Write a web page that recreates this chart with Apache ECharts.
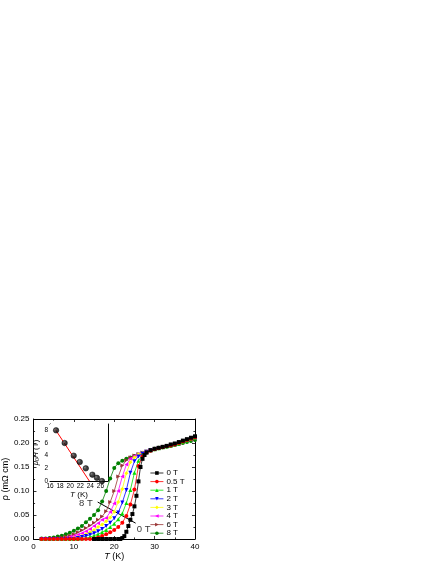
<!DOCTYPE html>
<html>
<head>
<meta charset="utf-8">
<script src="https://cdn.jsdelivr.net/npm/echarts@6/dist/echarts.min.js"></script>
<style>
html,body{margin:0;padding:0;background:#fff;}
#chart{width:436px;height:564px;}
</style>
</head>
<body>
<div id="chart"></div>
<script>
// ---------- DATA ----------
const fieldNames = ['0 T','0.5 T','1 T','2 T','3 T','4 T','6 T','8 T'];
const fieldColors = ['#000000','#ff0000','#00e000','#0000ff','#ffff00','#ff00ff','#993333','#008000'];

// temperature grid (K) for the in-field curves
const T_grid = [2,3,4,5,6,7,8,9,10,11,12,13,14,15,16,17,18,19,20,21,22,23,24,25,26,27,28,29,30,31,32,33,34,35,36,37,38,39,40];
// temperature grid for the zero-field curve
const T_zero = [15,16,17,18,19,20,21,21.5,22,22.5,23,23.5,24,24.5,25,25.5,26,26.5,27,27.5,28,29,30,31,32,33,34,35,36,37,38,39,40];

const rho_0T   = [0,0,0,0,0,0,0,0.000,0.002,0.006,0.015,0.027,0.040,0.052,0.068,0.090,0.120,0.150,0.167,0.175,0.180,0.185,0.188,0.190,0.192,0.194,0.197,0.199,0.202,0.205,0.208,0.211,0.214];
const rho_05T  = [0,0,0,0,0,0,0,0,0,0,0,0,0,0.001,0.003,0.006,0.010,0.014,0.019,0.025,0.034,0.048,0.072,0.103,0.152,0.172,0.180,0.184,0.187,0.189,0.191,0.193,0.195,0.197,0.200,0.203,0.206,0.209,0.212];
const rho_1T   = [0,0,0,0,0,0,0,0,0,0,0.001,0.002,0.004,0.007,0.010,0.014,0.019,0.025,0.032,0.041,0.053,0.075,0.102,0.138,0.163,0.175,0.181,0.185,0.187,0.189,0.191,0.193,0.195,0.197,0.199,0.202,0.205,0.208,0.211];
const rho_2T   = [0,0,0,0,0,0,0,0,0,0.002,0.004,0.006,0.009,0.012,0.016,0.021,0.027,0.034,0.043,0.055,0.076,0.102,0.138,0.162,0.172,0.178,0.182,0.185,0.187,0.189,0.191,0.193,0.195,0.197,0.200,0.203,0.206,0.209,0.212];
const rho_3T   = [0,0,0,0,0,0,0.001,0.001,0.002,0.004,0.006,0.010,0.014,0.019,0.025,0.030,0.037,0.045,0.057,0.077,0.104,0.137,0.160,0.170,0.176,0.180,0.183,0.186,0.188,0.190,0.192,0.194,0.196,0.198,0.200,0.203,0.206,0.209,0.212];
const rho_4T   = [0,0,0,0,0,0,0.002,0.004,0.006,0.009,0.012,0.016,0.021,0.027,0.033,0.040,0.044,0.056,0.074,0.100,0.130,0.155,0.167,0.173,0.177,0.180,0.183,0.185,0.187,0.189,0.191,0.193,0.195,0.197,0.199,0.202,0.205,0.207,0.210];
const rho_6T   = [0,0,0,0.001,0.002,0.003,0.005,0.007,0.010,0.014,0.018,0.023,0.028,0.034,0.040,0.047,0.058,0.077,0.100,0.130,0.153,0.164,0.170,0.174,0.177,0.180,0.183,0.185,0.187,0.189,0.191,0.193,0.195,0.197,0.199,0.201,0.204,0.207,0.209];
const rho_8T   = [0.001,0.001,0.002,0.003,0.005,0.007,0.010,0.013,0.017,0.022,0.027,0.035,0.042,0.050,0.060,0.078,0.100,0.126,0.148,0.158,0.163,0.167,0.170,0.173,0.176,0.179,0.182,0.185,0.188,0.190,0.191,0.192,0.194,0.196,0.198,0.200,0.202,0.204,0.206];

// inset: upper critical field vs T
const inset_T = [17.2,18.9,20.7,21.9,23.1,24.4,25.3,26.3];
const inset_H = [8,6,4,3,2,1,0.5,0];
const fit_T = [17.0,23.8];
const fit_H = [8.2,0];

// arrow annotation
const arrowFrom = [25.3,0.033];
const arrowTo = [15.9,0.077];
const annoLabels = [[13.0,0.075,'8 T'],[27.3,0.021,'0 T']];

// ---------- BUILD ----------
const symbols = ['rect','circle','triangle','path://M0,0 L10,0 L5,10 Z','diamond','path://M10,0 L10,10 L0,5 Z','path://M0,0 L0,10 L10,5 Z','circle'];
const rhoSets = [rho_0T,rho_05T,rho_1T,rho_2T,rho_3T,rho_4T,rho_6T,rho_8T];
const FONT = 'Liberation Sans, Arial, sans-serif';

const series = [];
for (let i = fieldNames.length - 1; i >= 0; i--) {
  const ts = i === 0 ? T_zero : T_grid;
  const vals = rhoSets[i];
  series.push({
    name: fieldNames[i],
    type: 'line',
    xAxisIndex: 0, yAxisIndex: 0,
    data: ts.map((t, k) => [t, vals[k]]),
    symbol: symbols[i],
    symbolSize: 4,
    showAllSymbol: true,
    lineStyle: {color: fieldColors[i], width: 0.8},
    itemStyle: {color: fieldColors[i]},
    z: 3 + (fieldNames.length - i),
    animation: false
  });
}
// arrow
series.push({
  type: 'line', xAxisIndex: 0, yAxisIndex: 0, data: [], silent: true,
  markLine: {
    silent: true, symbol: ['none','arrow'], symbolSize: [0,6], animation: false,
    lineStyle: {color: '#000', width: 1, type: 'solid'},
    label: {show: false},
    data: [[{coord: arrowFrom}, {coord: arrowTo}]]
  }
});
// annotation texts
series.push({
  type: 'scatter', xAxisIndex: 0, yAxisIndex: 0, symbolSize: 0, silent: true,
  data: annoLabels,
  label: {show: true, position: 'inside', formatter: p => p.value[2], color: '#000', fontSize: 9.5, fontFamily: FONT},
  z: 20
});
// inset fit line
series.push({
  type: 'line', xAxisIndex: 2, yAxisIndex: 2, silent: true,
  data: fit_T.map((t, k) => [t, fit_H[k]]),
  symbol: 'none', lineStyle: {color: '#ff0000', width: 1}, z: 5, animation: false
});
// inset points
series.push({
  type: 'scatter', xAxisIndex: 2, yAxisIndex: 2, silent: true,
  data: inset_T.map((t, k) => [t, inset_H[k]]),
  symbolSize: 5.5,
  itemStyle: {
    color: {type: 'radial', x: 0.35, y: 0.35, r: 0.6, colorStops: [{offset: 0, color: '#6a6a6a'}, {offset: 0.45, color: '#1a1a1a'}, {offset: 1, color: '#000'}]},
    borderColor: '#000', borderWidth: 0.6
  },
  z: 6, animation: false
});

const axisLine = {show: true, onZero: false, lineStyle: {color: '#000', width: 1}};
const tick = {show: true, inside: true, length: 3, lineStyle: {color: '#000', width: 0.8}};
const minor = {show: true, splitNumber: 2, length: 1.6, lineStyle: {color: '#000', width: 0.8}};
const lbl = {color: '#000', fontSize: 8, fontFamily: FONT};
const ilbl = {color: '#000', fontSize: 6.5, fontFamily: FONT};

const option = {
  animation: false,
  backgroundColor: '#fff',
  grid: [
    {left: 32, top: 419, width: 163, height: 120, show: false},
    {left: 50, top: 424, width: 58, height: 57, show: true, backgroundColor: '#fff', borderWidth: 0, z: 4}
  ],
  legend: {
    data: fieldNames, orient: 'vertical', left: 150, top: 469,
    itemWidth: 13, itemHeight: 4.5, itemGap: 0.6, padding: 0,
    lineStyle: {width: 0.8},
    textStyle: {color: '#000', fontSize: 8, fontFamily: FONT, padding: [0, 0, 0, -2], lineHeight: 8},
    selectedMode: false, z: 10
  },
  xAxis: [
    {gridIndex: 0, type: 'value', min: 0, max: 40, interval: 10, position: 'bottom',
     axisLine, axisTick: tick, minorTick: minor, splitLine: {show: false},
     axisLabel: Object.assign({margin: 4}, lbl),
     name: '{i|T} (K)', nameLocation: 'middle', nameGap: 13,
     nameTextStyle: {color: '#000', fontSize: 9, fontFamily: FONT, rich: {i: {fontStyle: 'italic', fontSize: 9, fontFamily: FONT}}}},
    {gridIndex: 0, type: 'value', min: 0, max: 40, interval: 10, position: 'top',
     axisLine, axisTick: tick, minorTick: minor, splitLine: {show: false}, axisLabel: {show: false}},
    {gridIndex: 1, type: 'value', min: 16, max: 27.5, interval: 2, position: 'bottom',
     axisLine, axisTick: Object.assign({}, tick, {length: 2}), splitLine: {show: false},
     axisLabel: Object.assign({margin: 2, showMaxLabel: false}, ilbl),
     name: '{i|T} (K)', nameLocation: 'middle', nameGap: 9,
     nameTextStyle: {color: '#000', fontSize: 8, fontFamily: FONT, rich: {i: {fontStyle: 'italic', fontSize: 8, fontFamily: FONT}}}},
    {gridIndex: 1, type: 'value', min: 16, max: 27.5, interval: 2, position: 'top',
     axisLine, axisTick: Object.assign({}, tick, {length: 2}), splitLine: {show: false}, axisLabel: {show: false}}
  ],
  yAxis: [
    {gridIndex: 0, type: 'value', min: 0, max: 0.25, interval: 0.05, position: 'left',
     axisLine, axisTick: tick, minorTick: minor, splitLine: {show: false},
     axisLabel: Object.assign({margin: 4, formatter: v => v.toFixed(2)}, lbl),
     name: 'ρ (mΩ cm)', nameLocation: 'middle', nameGap: 19, nameRotate: 90,
     nameTextStyle: {color: '#000', fontSize: 9, fontFamily: FONT}},
    {gridIndex: 0, type: 'value', min: 0, max: 0.25, interval: 0.05, position: 'right',
     axisLine, axisTick: tick, minorTick: minor, splitLine: {show: false}, axisLabel: {show: false}},
    {gridIndex: 1, type: 'value', min: 0, max: 9, interval: 2, position: 'left',
     axisLine, axisTick: Object.assign({}, tick, {length: 2}), splitLine: {show: false},
     axisLabel: Object.assign({margin: 2, showMaxLabel: false}, ilbl),
     name: '{i|μ}{s|0}{i|H} (T)', nameLocation: 'middle', nameGap: 6, nameRotate: 90,
     nameTextStyle: {color: '#000', fontSize: 8, fontFamily: FONT,
       rich: {i: {fontStyle: 'italic', fontSize: 8, fontFamily: FONT}, s: {fontSize: 5.5, fontFamily: FONT, padding: [4, 0, 0, 0]}}}},
    {gridIndex: 1, type: 'value', min: 0, max: 9, interval: 2, position: 'right',
     axisLine, axisTick: Object.assign({}, tick, {length: 2}), splitLine: {show: false}, axisLabel: {show: false}}
  ],
  series
};

const chart = echarts.init(document.getElementById('chart'), null, {renderer: 'canvas'});
chart.setOption(option);
</script>
</body>
</html>
